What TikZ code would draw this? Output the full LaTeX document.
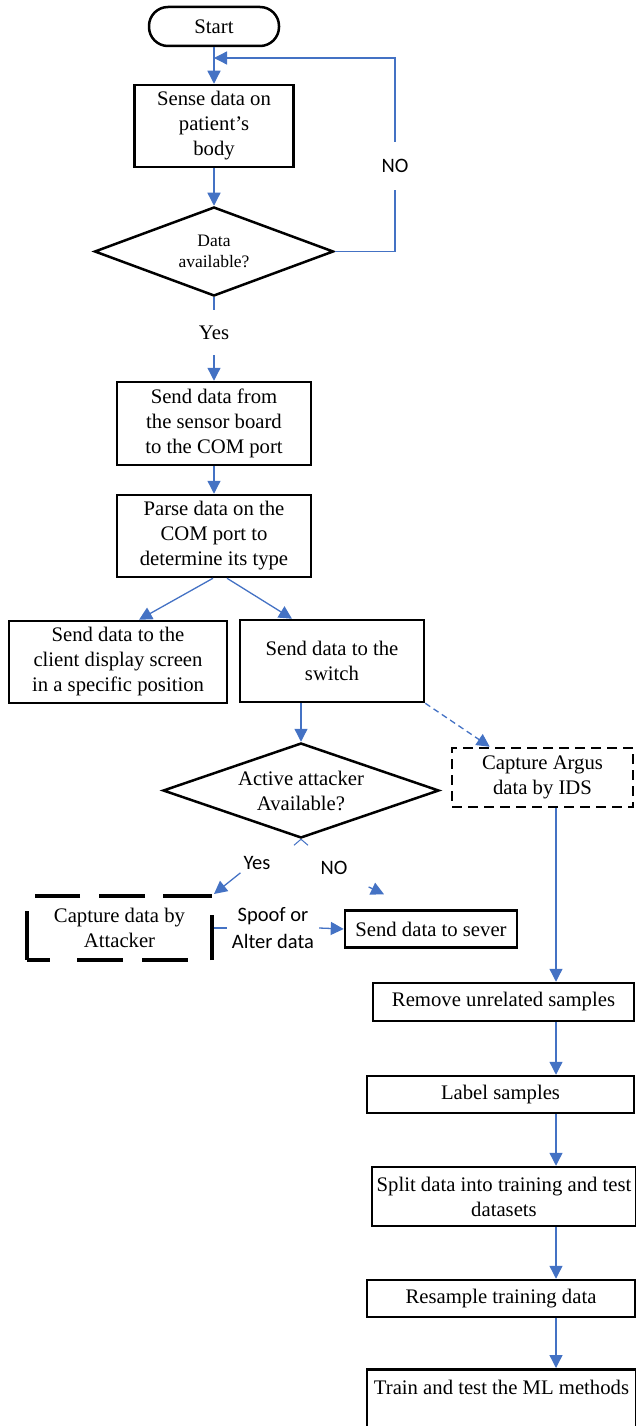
\documentclass[tikz,border=0pt]{standalone}
\usepackage{fontspec}
\setmainfont{Liberation Serif}
\newfontfamily\calibfont{Carlito}
\usetikzlibrary{shapes.geometric,arrows.meta}
\definecolor{flowblue}{RGB}{68,114,196}
\begin{document}
\begin{tikzpicture}[x=1pt,y=-1pt,
    box/.style={draw,line width=2.5pt,inner sep=3pt,align=center,font=\fontsize{20.7}{25}\selectfont},
    decision/.style={draw,diamond,line width=2.5pt,inner sep=0pt,align=center,font=\fontsize{20.7}{25}\selectfont},
    lbl/.style={inner sep=3pt,align=center,font=\calibfont\fontsize{20.5}{27}\selectfont},
    flow/.style={draw=flowblue,line width=1.3pt},
    arr/.style={flow,-{Triangle[length=13pt,width=13pt]}}]
    \useasboundingbox (0,0) rectangle (636,1426);
    % left column
    \node[box,rounded corners=19pt,minimum width=130pt,minimum height=39pt] (start) at (214,26.5) {Start};
    \node[box,minimum width=159pt,minimum height=82pt] (sense) at (214,126) {Sense data on\\patient’s\\body};
    \node[decision,aspect=2.7,minimum width=239pt,minimum height=89pt,font=\fontsize{17.5}{21}\selectfont] (avail) at (214,251.5) {Data\\available?};
    \node[lbl,minimum height=48pt] (noA) at (395,166) {NO};
    \node[inner sep=0pt,minimum height=45pt,font=\fontsize{20.7}{25}\selectfont] (yesA) at (214,332.5) {Yes};
    \node[box,minimum width=194pt,minimum height=83pt] (send) at (214,423.5) {Send data from\\the sensor board\\to the COM port};
    \node[box,minimum width=194pt,minimum height=82pt] (parse) at (214,536) {Parse data on the\\COM port to\\determine its type};
    \node[box,minimum width=218pt,minimum height=82pt] (client) at (118,662) {Send data to the\\client display screen\\in a specific position};
    \node[box,minimum width=184pt,minimum height=82pt] (switch) at (332,661) {Send data to the\\switch};
    \node[decision,aspect=2.9,minimum width=276pt,minimum height=95pt] (attack) at (301,790.5) {Active attacker\\Available?};
    \node[box,dash pattern=on 10pt off 6pt,minimum width=181pt,minimum height=59pt] (ids) at (542.5,777.5) {Capture Argus\\data by IDS};
    \node[lbl] (yesB) at (257,863) {Yes};
    \node[lbl] (noB) at (334,868) {NO};
    \node[box,line width=4pt,minimum width=185pt,minimum height=64pt,
        dash pattern=on 72pt off 27pt on 46pt off 19pt on 46pt off 24pt on 45pt off 19pt on 49pt off 18pt on 46pt off 19pt on 45pt off 23pt,
        dash phase=49pt] (capt) at (119.5,928) {Capture data by\\Attacker};
    \node[lbl,inner sep=5pt] (spoof) at (273,928) {Spoof or\\Alter data};
    \node[box,minimum width=172pt,minimum height=37pt] (sever) at (431,929) {Send data to sever};
    % right column
    \coordinate (rail) at (556,0);
    \node[box,minimum width=261pt,minimum height=38pt] (remove) at (503.5,1002) {Remove unrelated samples};
    \node[box,minimum width=267pt,minimum height=37pt] (label) at (500.5,1094.5) {Label samples};
    \node[box,minimum width=264pt,minimum height=59pt] (split) at (504,1196.5) {Split data into training and test\\datasets};
    \node[box,minimum width=268pt,minimum height=37pt] (resample) at (501,1298.5) {Resample training data};
    \node[box,anchor=north,minimum width=269pt,text height=22pt,text depth=62pt] (train) at (501.5,1368) {Train and test the ML methods};
    \coordinate (join) at (214,58);
    % connectors
    \draw[arr] (start) -- (sense);
    \draw[flow] (avail.east) -| (noA.south);
    \draw[arr] (noA.north) |- (join);
    \draw[arr] (sense) -- (avail);
    \draw[flow] (avail.south) -- (yesA.north);
    \draw[arr] (yesA.south) -- (send.north);
    \draw[arr] (send) -- (parse);
    \draw[arr] ([xshift=-1pt]parse.south) -- ([xshift=21pt]client.north);
    \draw[arr] ([xshift=13pt]parse.south) -- ([xshift=-40pt]switch.north);
    \draw[arr] (attack.north |- switch.south) -- (attack.north);
    \draw[arr,dash pattern=on 6pt off 4pt] (switch.south east) -- ([xshift=39pt]ids.north west);
    \draw[flow,line width=1pt] ([xshift=-7pt,yshift=-6pt]attack.south) -- (attack.south) -- ([xshift=7pt,yshift=-6pt]attack.south);
    \draw[arr] (yesB.south west) -- (capt.north east);
    \draw[arr] ([xshift=18pt,yshift=-9pt]noB.south east) -- ([xshift=-47pt,yshift=15pt]sever.north);
    \draw[flow] (capt.east) -- (spoof.west);
    \draw[arr] (spoof.east) -- (sever.west);
    \draw[arr] (ids.south -| rail) -- (remove.north -| rail);
    \draw[arr] (remove.south -| rail) -- (label.north -| rail);
    \draw[arr] (label.south -| rail) -- (split.north -| rail);
    \draw[arr] (split.south -| rail) -- (resample.north -| rail);
    \draw[arr] (resample.south -| rail) -- (train.north -| rail);
\end{tikzpicture}
\end{document}
